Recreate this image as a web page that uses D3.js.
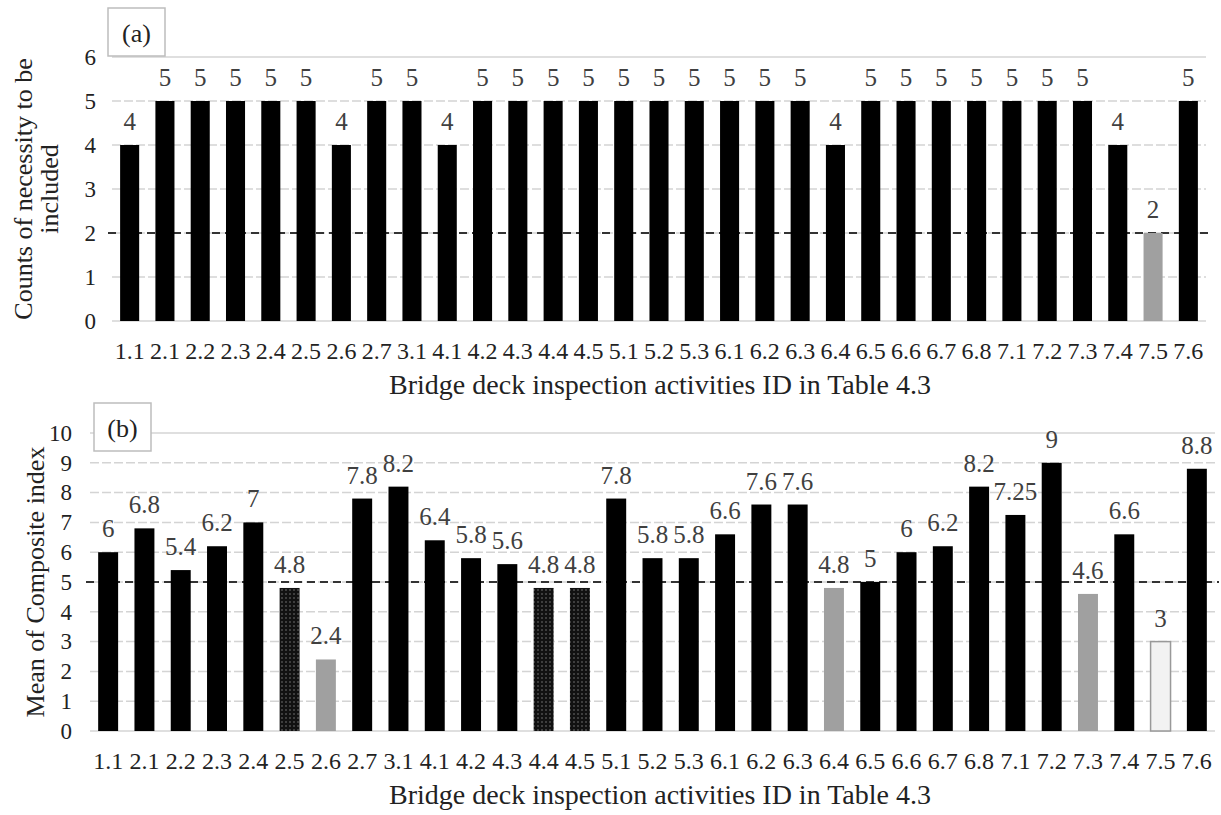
<!DOCTYPE html>
<html>
<head>
<meta charset="utf-8">
<script src="https://cdn.jsdelivr.net/npm/d3@7"></script>
<style>
  body { margin: 0; background: #fff; }
  svg text { font-family: "Times New Roman", "Liberation Serif", "DejaVu Serif", serif !important; }
</style>
</head>
<body>
<div id="chart"></div>
<script>
// activity ids shared by both panels
var ids = ["1.1","2.1","2.2","2.3","2.4","2.5","2.6","2.7","3.1","4.1","4.2","4.3","4.4","4.5",
  "5.1","5.2","5.3","6.1","6.2","6.3","6.4","6.5","6.6","6.7","6.8","7.1","7.2","7.3","7.4","7.5","7.6"];

// panel (a)
var countVals = [4,5,5,5,5,5,4,5,5,4,5,5,5,5,5,5,5,5,5,5,4,5,5,5,5,5,5,5,4,2,5];
var countKinds = ["black","black","black","black","black","black","black","black","black","black",
  "black","black","black","black","black","black","black","black","black","black","black","black",
  "black","black","black","black","black","black","black","gray","black"];
var countTicks = [0,1,2,3,4,5,6];

// panel (b)
var meanVals = [6,6.8,5.4,6.2,7,4.8,2.4,7.8,8.2,6.4,5.8,5.6,4.8,4.8,7.8,5.8,5.8,6.6,7.6,7.6,
  4.8,5,6,6.2,8.2,7.25,9,4.6,6.6,3,8.8];
var meanKinds = ["black","black","black","black","black","dots","gray","black","black","black",
  "black","black","dots","dots","black","black","black","black","black","black","gray","black",
  "black","black","black","black","black","gray","black","light","black"];
var meanTicks = [0,1,2,3,4,5,6,7,8,9,10];

var svg = d3.select("#chart").append("svg")
  .attr("width", 1221)
  .attr("height", 815);

// dotted fill like the excel pattern
var pat = svg.append("defs").append("pattern")
  .attr("id", "dots")
  .attr("patternUnits", "userSpaceOnUse")
  .attr("width", 4).attr("height", 4);
pat.append("rect").attr("width", 4).attr("height", 4).attr("fill", "#111");
pat.append("circle").attr("cx", 2).attr("cy", 2).attr("r", 0.8).attr("fill", "#777");

var fillFor = function(k) {
  if (k == "gray") return "#a0a0a0";
  if (k == "dots") return "url(#dots)";
  if (k == "light") return "#f2f2f2";
  return "#000";
};

var drawPanel = function(opt) {
  var data = ids.map(function(id, i) { return { id: id, v: opt.vals[i], k: opt.kinds[i] }; });

  var x = d3.scaleBand()
    .domain(ids)
    .range([opt.left, opt.right])
    .paddingInner(opt.pad)
    .paddingOuter(opt.pad / 2);

  var y = d3.scaleLinear()
    .domain([0, d3.max(opt.ticks)])
    .range([opt.bottom, opt.top]);

  var g = svg.append("g");

  // gridlines
  g.append("g").selectAll("line")
    .data(opt.ticks)
    .enter().append("line")
    .attr("x1", opt.left).attr("x2", opt.right)
    .attr("y1", function(d) { return y(d); })
    .attr("y2", function(d) { return y(d); })
    .attr("stroke", "#d4d4d4")
    .attr("stroke-width", 1.5)
    .attr("stroke-dasharray", function(d) { return d == 0 || d == d3.max(opt.ticks) ? null : "9,3"; });

  // y tick labels
  var yAxis = g.append("g")
    .attr("transform", "translate(" + (opt.left - 6) + ",0)")
    .call(d3.axisLeft(y).tickValues(opt.ticks).tickFormat(d3.format("d")).tickSize(0).tickPadding(opt.tickPad));
  yAxis.select(".domain").remove();
  yAxis.selectAll("text")
    .style("font-size", "23px")
    .attr("fill", "#222");

  // reference line
  g.append("line")
    .attr("x1", opt.left - 4).attr("x2", opt.right + 4)
    .attr("y1", y(opt.ref)).attr("y2", y(opt.ref))
    .attr("stroke", "#333")
    .attr("stroke-width", 2)
    .attr("stroke-dasharray", "8,5");

  g.selectAll(".bar")
    .data(data)
    .enter().append("rect")
    .attr("class", "bar")
    .attr("x", function(d) { return x(d.id); })
    .attr("width", x.bandwidth())
    .attr("y", function(d) { return y(d.v); })
    .attr("height", function(d) { return opt.bottom - y(d.v); })
    .attr("fill", function(d) { return fillFor(d.k); })
    .attr("stroke", function(d) { return d.k == "light" ? "#999" : null; })
    .attr("stroke-width", 1.5);

  g.selectAll(".lbl")
    .data(data)
    .enter().append("text")
    .attr("class", "lbl")
    .attr("x", function(d) { return x(d.id) + x.bandwidth() / 2; })
    .attr("y", function(d) { return y(d.v) - 15; })
    .attr("text-anchor", "middle")
    .style("font-size", "25px")
    .attr("fill", "#404040")
    .text(function(d) { return d.v; });

  // x tick labels
  var xAxis = g.append("g")
    .attr("transform", "translate(0," + opt.bottom + ")")
    .call(d3.axisBottom(x).tickSize(0).tickPadding(21));
  xAxis.select(".domain").remove();
  xAxis.selectAll("text")
    .style("font-size", "24px")
    .attr("fill", "#222");

  g.append("text")
    .attr("x", 660)
    .attr("y", opt.bottom + 73)
    .attr("text-anchor", "middle")
    .style("font-size", "28px")
    .attr("fill", "#222")
    .text("Bridge deck inspection activities ID in Table 4.3");

  // y title
  var yt = g.append("text")
    .attr("transform", "translate(" + opt.titleX + "," + ((opt.top + opt.bottom) / 2) + ") rotate(-90)")
    .attr("text-anchor", "middle")
    .style("font-size", "26px")
    .attr("fill", "#222");
  opt.yTitle.forEach(function(line, i) {
    yt.append("tspan")
      .attr("x", 0)
      .attr("dy", i == 0 ? 0 : "1.0em")
      .text(line);
  });

  // panel tag box
  g.append("rect")
    .attr("x", opt.box[0]).attr("y", opt.box[1])
    .attr("width", 57).attr("height", 48)
    .attr("fill", "#fff")
    .attr("stroke", "#bdbdbd")
    .attr("stroke-width", 1.5);
  g.append("text")
    .attr("x", opt.box[0] + 28.5)
    .attr("y", opt.box[1] + 34)
    .attr("text-anchor", "middle")
    .style("font-size", "26px")
    .attr("fill", "#222")
    .text(opt.tag);
};

drawPanel({
  vals: countVals, kinds: countKinds, ticks: countTicks, ref: 2,
  left: 112, right: 1206, top: 57, bottom: 321, pad: 0.46, tickPad: 10,
  yTitle: ["Counts of necessity to be", "included"], titleX: 32,
  box: [108, 8], tag: "(a)"
});

drawPanel({
  vals: meanVals, kinds: meanKinds, ticks: meanTicks, ref: 5,
  left: 90, right: 1215, top: 433, bottom: 731, pad: 0.45, tickPad: 12,
  yTitle: ["Mean of Composite index"], titleX: 44,
  box: [94, 403], tag: "(b)"
});
</script>
</body>
</html>
